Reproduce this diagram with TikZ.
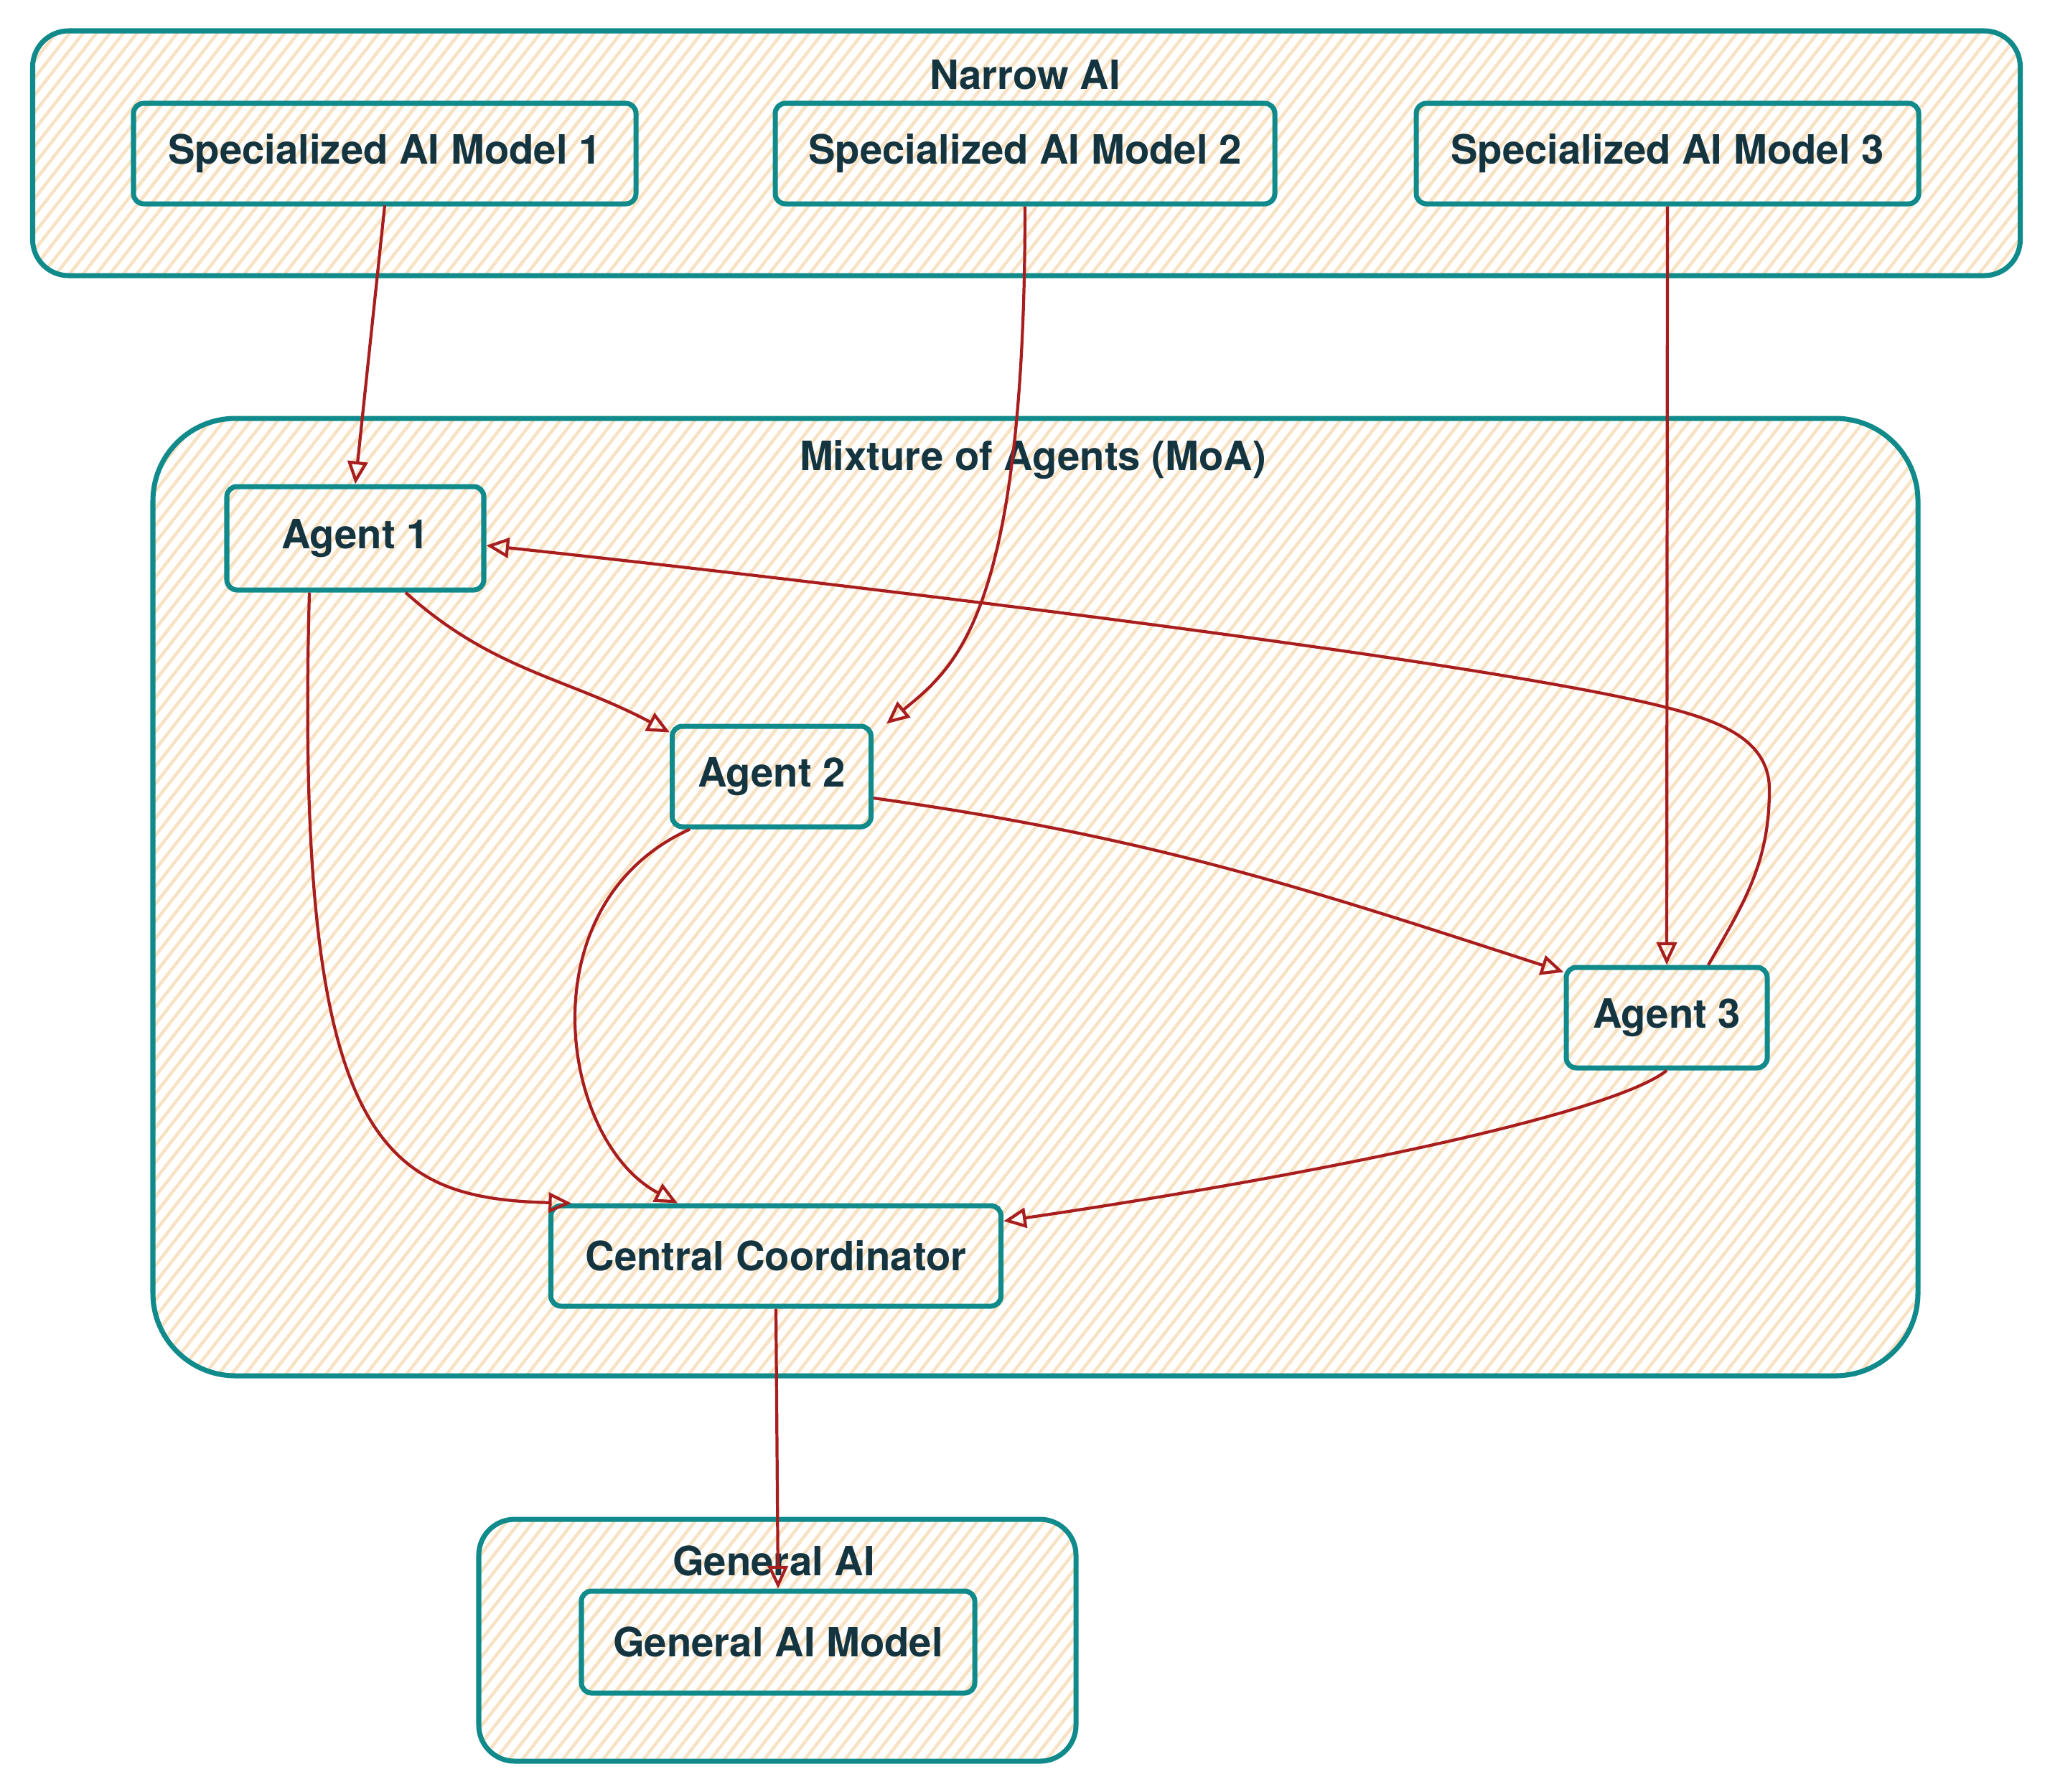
\documentclass[tikz,border=0pt]{standalone}
\usepackage{fontspec}
\setmainfont{TeX Gyre Heros}
\usetikzlibrary{arrows.meta,backgrounds,patterns.meta}
\definecolor{frameteal}{RGB}{16,138,138}
\definecolor{hatchtan}{RGB}{248,226,196}
\definecolor{inkslate}{RGB}{20,52,64}
\definecolor{linkred}{RGB}{168,30,30}

\begin{document}
\begin{tikzpicture}[>=Latex, font=\bfseries\fontsize{16}{19}\selectfont]
  \tikzset{
    hatch/.style={pattern={Lines[angle=52, distance=4.2pt, line width=1.3pt]}, pattern color=hatchtan},
    cluster/.style={draw=frameteal, line width=2pt, hatch, inner sep=0pt},
    unit/.style={draw=frameteal, line width=2pt, rounded corners=4pt, hatch, text=inkslate, minimum height=1.4cm, inner sep=0pt, align=center},
    title/.style={text=inkslate},
    link/.style={draw=linkred, line width=1.2pt, -{Triangle[open, length=9pt, width=8pt]}}
  }
  \useasboundingbox (0,0) rectangle (28.56,-24.96);

  % Main nodes
  \node[unit, minimum width=7.0cm]  (spec1) at (5.36,-2.14) {Specialized AI Model 1};
  \node[unit, minimum width=6.96cm] (spec2) at (14.28,-2.14) {Specialized AI Model 2};
  \node[unit, minimum width=7.0cm]  (spec3) at (23.23,-2.14) {Specialized AI Model 3};

  \node[unit, minimum width=3.58cm, minimum height=1.44cm] (agent1) at (4.95,-7.50) {Agent 1};
  \node[unit, minimum width=2.77cm] (agent2) at (10.75,-10.82) {Agent 2};
  \node[unit, minimum width=2.80cm] (agent3) at (23.22,-14.18) {Agent 3};
  \node[unit, minimum width=6.27cm] (central) at (10.81,-17.50) {Central Coordinator};

  \node[unit, minimum width=5.48cm, minimum height=1.42cm] (genmodel) at (10.84,-22.88) {General AI Model};

  % Background regions
  \begin{scope}[on background layer]
    \node[cluster, rounded corners=0.5cm, minimum width=27.69cm, minimum height=3.41cm] (narrow) at (14.30,-2.135) {};
    \node[cluster, rounded corners=1.15cm, minimum width=24.59cm, minimum height=13.34cm] (moa) at (14.425,-12.50) {};
    \node[cluster, rounded corners=0.5cm, minimum width=8.32cm, minimum height=3.37cm] (general) at (10.83,-22.855) {};
  \end{scope}

  % Labels inside regions
  \node[title] (narrowlbl) at (14.28,-1.04) {Narrow AI};
  \node[title] (moalbl) at (14.39,-6.41) {Mixture of Agents (MoA)};
  \node[title] (generallbl) at (10.78,-21.75) {General AI};

  % Links from narrow models
  \draw[link] (spec1.south) -- (agent1.north);
  \draw[link] (spec2.south) .. controls (14.28,-8.6) and (13.3,-9.3) .. ([xshift=0.18cm]agent2.north east);
  \draw[link] (spec3.south) -- (agent3.north);

  % Links between agents
  \draw[link] ([xshift=0.7cm]agent1.south) to[out=-42, in=152] ([yshift=-0.12cm]agent2.north west);
  \draw[link] ([yshift=-0.3cm]agent2.east) to[out=-8, in=162] ([yshift=-0.1cm]agent3.north west);
  \draw[link] ([xshift=0.58cm]agent3.north) to[out=60, in=-90] (24.65,-11.0) to[out=90, in=-15] (23.3,-9.88)
    .. controls (20.88,-9.23) and (11.71,-8.13) .. ([yshift=-0.1cm]agent1.east);

  % Links to coordinator
  \draw[link] ([xshift=-0.64cm]agent1.south) .. controls (4.1,-15.9) and (5.3,-16.7) .. ([xshift=0.32cm]central.north west);
  \draw[link] ([xshift=0.28cm]agent2.south west) .. controls (7.3,-12.6) and (7.8,-15.9) .. ([xshift=1.8cm]central.north west);
  \draw[link] (agent3.south) .. controls (22.5,-15.5) and (18.5,-16.35) .. ([yshift=-0.25cm]central.north east);

  \draw[link] (central.south) -- (genmodel.north);

\end{tikzpicture}
\end{document}
